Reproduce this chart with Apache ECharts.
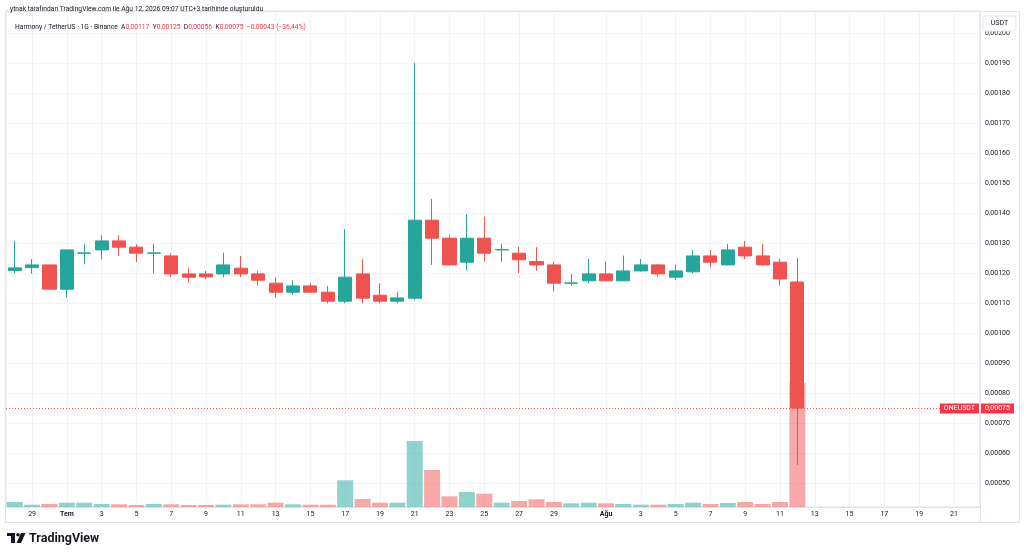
<!DOCTYPE html>
<html>
<head>
<meta charset="utf-8">
<script src="https://cdn.jsdelivr.net/npm/echarts@6/dist/echarts.min.js"></script>
<style>
  html, body { margin: 0; padding: 0; background: #fff; }
  #chart { width: 1024px; height: 555px; }
</style>
</head>
<body>
<div id="chart"></div>
<script>
// daily candles, ONE/USDT on Binance
var dates = [
  '06-28', '06-29', '06-30',
  '07-01', '07-02', '07-03', '07-04', '07-05', '07-06', '07-07', '07-08', '07-09', '07-10',
  '07-11', '07-12', '07-13', '07-14', '07-15', '07-16', '07-17', '07-18', '07-19', '07-20',
  '07-21', '07-22', '07-23', '07-24', '07-25', '07-26', '07-27', '07-28', '07-29', '07-30', '07-31',
  '08-01', '08-02', '08-03', '08-04', '08-05', '08-06', '08-07', '08-08', '08-09', '08-10',
  '08-11', '08-12', '08-13', '08-14', '08-15', '08-16', '08-17', '08-18', '08-19', '08-20',
  '08-21', '08-22'
];
var monthNames = { 7: 'Tem', 8: 'Ağu' };

// [open, close, low, high]
var candles = [
  [0.001208, 0.001217, 0.001199, 0.001307],
  [0.001218, 0.001227, 0.001198, 0.001246],
  [0.001227, 0.001146, 0.001145, 0.001228],
  [0.001146, 0.001277, 0.001118, 0.001278],
  [0.001266, 0.001267, 0.001229, 0.001296],
  [0.001277, 0.001307, 0.001246, 0.001326],
  [0.001307, 0.001286, 0.001258, 0.001326],
  [0.001286, 0.001266, 0.001237, 0.001296],
  [0.001266, 0.001267, 0.001198, 0.001297],
  [0.001257, 0.001197, 0.001186, 0.001266],
  [0.001197, 0.001186, 0.001168, 0.001216],
  [0.001197, 0.001187, 0.001179, 0.001207],
  [0.001197, 0.001227, 0.001186, 0.001268],
  [0.001216, 0.001197, 0.001186, 0.001257],
  [0.001197, 0.001176, 0.001157, 0.001207],
  [0.001166, 0.001136, 0.001118, 0.001186],
  [0.001136, 0.001157, 0.001127, 0.001177],
  [0.001157, 0.001136, 0.001133, 0.001166],
  [0.001136, 0.001106, 0.001099, 0.001157],
  [0.001106, 0.001186, 0.001099, 0.001346],
  [0.001197, 0.001116, 0.001099, 0.001246],
  [0.001126, 0.001106, 0.001099, 0.001166],
  [0.001106, 0.001117, 0.001099, 0.001136],
  [0.001116, 0.001376, 0.001110, 0.001900],
  [0.001376, 0.001316, 0.001227, 0.001447],
  [0.001316, 0.001227, 0.001225, 0.001326],
  [0.001236, 0.001316, 0.001208, 0.001397],
  [0.001316, 0.001266, 0.001238, 0.001388],
  [0.001277, 0.001278, 0.001238, 0.001297],
  [0.001266, 0.001244, 0.001199, 0.001288],
  [0.001238, 0.001227, 0.001208, 0.001286],
  [0.001227, 0.001166, 0.001138, 0.001238],
  [0.001166, 0.001167, 0.001157, 0.001197],
  [0.001174, 0.001197, 0.001166, 0.001247],
  [0.001197, 0.001174, 0.001173, 0.001238],
  [0.001174, 0.001207, 0.001173, 0.001258],
  [0.001207, 0.001227, 0.001205, 0.001247],
  [0.001227, 0.001197, 0.001188, 0.001230],
  [0.001186, 0.001207, 0.001177, 0.001227],
  [0.001204, 0.001257, 0.001199, 0.001277],
  [0.001257, 0.001236, 0.001218, 0.001277],
  [0.001227, 0.001277, 0.001225, 0.001297],
  [0.001286, 0.001257, 0.001246, 0.001307],
  [0.001257, 0.001227, 0.001225, 0.001297],
  [0.001236, 0.001180, 0.001158, 0.001246],
  [0.001170, 0.000750, 0.000560, 0.001250]
];

// volume, millions ONE
var volumes = [
  5.0, 2.3, 3.0, 4.3, 4.3, 3.0, 2.7, 2.0, 3.0, 2.7, 2.0, 2.0, 2.3, 2.7, 2.7, 4.3,
  2.7, 2.3, 2.3, 26.7, 8.0, 4.3, 4.3, 66.0, 37.0, 10.7, 15.0, 13.3, 4.3, 6.0, 7.7,
  5.0, 3.7, 4.3, 3.7, 3.0, 2.3, 2.3, 3.0, 4.3, 3.0, 4.0, 5.0, 3.0, 5.0, 124.0
];

var UP = '#26a69a';
var DOWN = '#ef5350';
var FONT = 'Roboto, "Noto Sans", sans-serif';
var PANE_LEFT = 6, PANE_RIGHT = 44;

var lastClose = candles[candles.length - 1][1];

function price(v) {
  return v.toFixed(5).replace('.', ',');
}

function showTick(index, value) {
  var d = +value.split('-')[1];
  return d % 2 === 1 && d !== 31;
}

function tickLabel(value) {
  var parts = value.split('-');
  var m = +parts[0], d = +parts[1];
  if (d === 1) return '{b|' + monthNames[m] + '}';
  return String(d);
}

var volumeData = volumes.map(function (v, i) {
  var c = candles[i];
  return {
    value: v,
    itemStyle: { color: c[1] >= c[0] ? 'rgba(38,166,154,0.5)' : 'rgba(239,83,80,0.5)' }
  };
});

var myChart = echarts.init(document.getElementById('chart'));

var option = {
  backgroundColor: '#ffffff',
  animation: false,
  textStyle: { fontFamily: FONT },
  title: [
    {
      text: 'ytnak tarafından TradingView.com ile Ağu 12, 2026 09:07 UTC+3 tarihinde oluşturuldu',
      left: 5, top: 1,
      textStyle: { fontSize: 6.7, fontWeight: 'normal', color: '#131722', fontFamily: FONT }
    },
    {
      text: '{n|Harmony / TetherUS · 1G · Binance}  {k|A}{v|' + price(candles[45][0]) + '}  {k|Y}{v|' + price(candles[45][3]) +
        '}  {k|D}{v|' + price(candles[45][2]) + '}  {k|K}{v|' + price(lastClose) + '}  {v|−0,00043 (−36,44%)}',
      left: 10, top: 19,
      textStyle: {
        fontSize: 6.7, fontWeight: 'normal', fontFamily: FONT,
        rich: {
          n: { fontSize: 6.7, fontWeight: 'normal', color: '#131722', fontFamily: FONT },
          k: { fontSize: 6.7, fontWeight: 'normal', color: '#131722', fontFamily: FONT },
          v: { fontSize: 6.7, fontWeight: 'normal', color: '#f23645', fontFamily: FONT }
        }
      }
    }
  ],
  grid: [
    { left: PANE_LEFT, right: PANE_RIGHT, top: 11, bottom: 48, show: true, borderColor: '#e0e3eb', borderWidth: 1 },
    { left: PANE_LEFT, right: PANE_RIGHT, top: 3, bottom: 42 },
    { left: PANE_LEFT, right: PANE_RIGHT, top: 383, bottom: 48 }
  ],
  xAxis: [
    {
      gridIndex: 0, type: 'category', data: dates, boundaryGap: true,
      axisLine: { lineStyle: { color: '#e0e3eb' } },
      axisTick: { show: false, alignWithLabel: true, interval: showTick },
      axisLabel: {
        interval: showTick, formatter: tickLabel, fontSize: 7, color: '#131722', margin: 4,
        rich: { b: { fontSize: 7, fontWeight: 'bold', color: '#131722' } }
      },
      splitLine: { show: true, interval: showTick, alignWithLabel: true, lineStyle: { color: '#f0f3fa' } }
    },
    { gridIndex: 1, type: 'category', data: dates, boundaryGap: true, show: false },
    { gridIndex: 2, type: 'category', data: dates, boundaryGap: true, show: false }
  ],
  yAxis: [
    { gridIndex: 0, type: 'value', show: false, splitLine: { show: false } },
    {
      gridIndex: 1, type: 'value', position: 'right',
      min: 0.0004, max: 0.0021, interval: 0.0001,
      axisLine: { show: false }, axisTick: { show: false },
      axisLabel: {
        fontSize: 7, color: '#131722', margin: 5,
        showMinLabel: false, showMaxLabel: false,
        formatter: price
      },
      splitLine: { show: true, showMinLine: false, showMaxLine: false, lineStyle: { color: '#f0f3fa' } }
    },
    { gridIndex: 2, type: 'value', show: false, min: 0, max: 'dataMax' }
  ],
  series: [
    {
      name: 'Hacim',
      type: 'bar',
      xAxisIndex: 2, yAxisIndex: 2,
      barWidth: '92%',
      data: volumeData,
      z: 1
    },
    {
      name: 'ONEUSDT',
      type: 'candlestick',
      xAxisIndex: 1, yAxisIndex: 1,
      barWidth: '78%',
      data: candles.map(function (c) { return [c[0], c[1], c[2], c[3]]; }),
      itemStyle: {
        color: UP, color0: DOWN,
        borderColor: UP, borderColor0: DOWN,
        borderWidth: 1
      },
      z: 3
    }
  ],
  graphic: [
    {
      id: 'frame', type: 'rect', silent: true, z: 0,
      shape: { x: 5.5, y: 11.5, width: 1014, height: 511 },
      style: { fill: 'none', stroke: '#e0e3eb', lineWidth: 1 }
    },
    {
      id: 'scaleSep', type: 'line', silent: true,
      shape: { x1: 980.5, y1: 11, x2: 980.5, y2: 522 },
      style: { stroke: '#e0e3eb', lineWidth: 1 }
    },
    {
      id: 'usdtBox', type: 'rect', silent: true, z: 100,
      shape: { x: 983, y: 16, width: 33, height: 15, r: 2 },
      style: { fill: '#fff', stroke: '#e0e3eb', lineWidth: 1 }
    },
    {
      id: 'usdtText', type: 'text', silent: true, z: 101,
      style: { x: 999.5, y: 23.5, text: 'USDT', fontSize: 7, fill: '#131722', align: 'center', verticalAlign: 'middle', fontFamily: FONT }
    },
    // TradingView logo
    {
      id: 'logo', type: 'group', silent: true,
      children: [
        { type: 'rect', shape: { x: 7, y: 533, width: 8, height: 3 }, style: { fill: '#131722' } },
        { type: 'rect', shape: { x: 11, y: 533, width: 4, height: 10 }, style: { fill: '#131722' } },
        { type: 'circle', shape: { cx: 18, cy: 534.8, r: 1.8 }, style: { fill: '#131722' } },
        { type: 'polygon', shape: { points: [[21, 533], [25.5, 533], [21, 543], [16.5, 543]] }, style: { fill: '#131722' } },
        {
          type: 'text',
          style: { x: 29, y: 538.5, text: 'TradingView', fontSize: 12.5, fontWeight: 'bold', fill: '#131722', verticalAlign: 'middle', fontFamily: FONT }
        }
      ]
    }
  ]
};

myChart.setOption(option);

// last price line and its tags, placed through the price scale
var yLast = Math.round(myChart.convertToPixel({ yAxisIndex: 1 }, lastClose)) + 0.5;
var paneEnd = myChart.getWidth() - PANE_RIGHT;
var tag = {
  fill: '#fff', fontSize: 7, fontFamily: FONT, backgroundColor: '#f23645',
  padding: [2, 4, 1, 4], verticalAlign: 'middle'
};
myChart.setOption({
  graphic: [
    {
      id: 'lastLine', type: 'line', silent: true, z: 50,
      shape: { x1: PANE_LEFT, y1: yLast, x2: paneEnd, y2: yLast },
      style: { stroke: DOWN, lineWidth: 1, lineDash: [1, 2] }
    },
    {
      id: 'lastPrice', type: 'text', silent: true, z: 60,
      style: Object.assign({ x: paneEnd + 1, y: yLast, text: price(lastClose), align: 'left' }, tag)
    },
    {
      id: 'lastSymbol', type: 'text', silent: true, z: 60,
      style: Object.assign({ x: paneEnd - 1, y: yLast, text: 'ONEUSDT', align: 'right' }, tag)
    }
  ]
});
</script>
</body>
</html>
